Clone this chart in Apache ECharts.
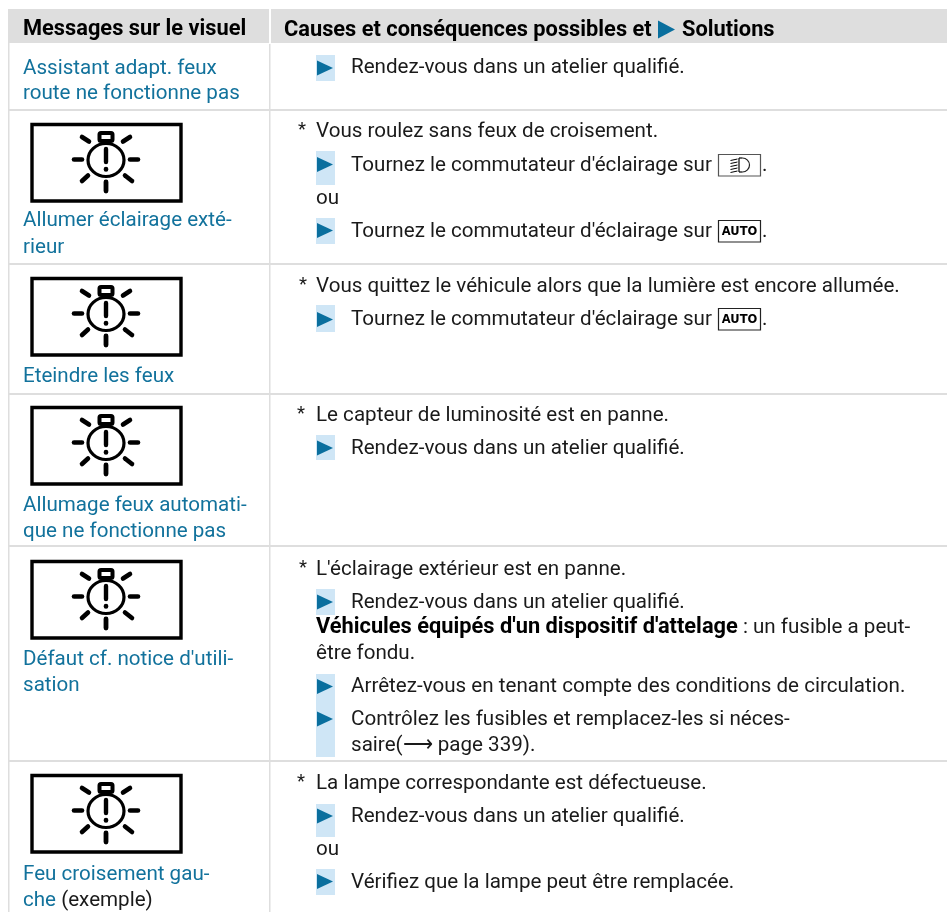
<!DOCTYPE html>
<html>
<head>
<meta charset="utf-8">
<style>
  html, body { margin: 0; padding: 0; background: #fff; }
  #chart { width: 947px; height: 912px; }
</style>
</head>
<body>
<div id="chart"></div>
<script src="https://cdn.jsdelivr.net/npm/echarts@6/dist/echarts.min.js"></script>
<script>
// table content
const headers = ['Messages sur le visuel', 'Causes et conséquences possibles et', 'Solutions'];
const messages = [
  ['Assistant adapt. feux', 'route ne fonctionne pas'],
  ['Allumer éclairage exté-', 'rieur'],
  ['Eteindre les feux'],
  ['Allumage feux automati-', 'que ne fonctionne pas'],
  ["Défaut cf. notice d'utili-", 'sation'],
  ['Feu croisement gau-', 'che {k|(exemple)}']
];
const causes = [
  'Vous roulez sans feux de croisement.',
  'Vous quittez le véhicule alors que la lumière est encore allumée.',
  'Le capteur de luminosité est en panne.',
  "L'éclairage extérieur est en panne.",
  'La lampe correspondante est défectueuse.'
];
const solutions = [
  'Rendez-vous dans un atelier qualifié.',
  "Tournez le commutateur d'éclairage sur",
  "Tournez le commutateur d'éclairage sur",
  "Tournez le commutateur d'éclairage sur",
  'Rendez-vous dans un atelier qualifié.',
  'Rendez-vous dans un atelier qualifié.',
  'Arrêtez-vous en tenant compte des conditions de circulation.',
  'Contrôlez les fusibles et remplacez-les si néces-',
  'Rendez-vous dans un atelier qualifié.',
  'Vérifiez que la lampe peut être remplacée.'
];
const extraLines = [
  'ou',
  'ou',
  "{b|Véhicules équipés d'un dispositif d'attelage} : un fusible a peut-",
  'être fondu.',
  'saire(⟶ page 339).'
];
const keyLabel = 'AUTO';

// layout, separate from the content
const messageY = [[68.5, 93.5], [221, 247.5], [376.5], [505.5, 531.5], [659.5, 685.5], [874.5, 900.5]];
const causeY = [132, 286.5, 415.5, 569.5, 783.5];
const starX = [298, 299, 297, 299, 297];
const solutionY = [67.5, 165.5, 231.5, 319.5, 448.5, 602.5, 686.5, 719.5, 816.5, 882.5];
const extraY = [198.5, 849.5, 627.5, 653.5, 745.5];
const bulletBars = [[55, 26], [151, 34], [218, 26], [305, 27], [435, 25], [589, 26], [674, 83], [804, 33], [869, 26]];
const bulletTips = [68, 164.5, 230.5, 319.5, 448, 602, 686.5, 719, 816, 881.5];
const rowLines = [110, 264, 394, 546, 761];
const iconTops = [123, 277, 406, 560, 774];
const autoKeyTops = [220, 308];
const lampKeyTop = 154;

const TEXT = '#1a1a1a', BLUE = '#12729c', TRI = '#0a6f9e', PALE = '#cfe6f6', GRAY = '#dedede';
const FONT = 'Roboto';
const SIZE = 20.6;
const BOLD = 21.8;

const els = [];
const rect = (x, y, w, h, fill) => els.push({ type: 'rect', silent: true, shape: { x, y, width: w, height: h }, style: { fill } });
const text = (x, y, t, opt) => els.push({
  type: 'text', x, y, silent: true,
  style: Object.assign({ text: t, fill: TEXT, font: `${SIZE}px ${FONT}`, verticalAlign: 'middle' }, opt)
});
const tri = (x, y, w, h) => els.push({
  type: 'polygon', silent: true,
  shape: { points: [[x, y - h / 2], [x + w, y], [x, y + h / 2]] }, style: { fill: TRI }
});
const seg = (x1, y1, x2, y2, lw, cap) => els.push({
  type: 'line', silent: true, shape: { x1, y1, x2, y2 },
  style: { stroke: '#000', lineWidth: lw, lineCap: cap || 'round' }
});

function bulbIcon(top) {
  const cx = 106;
  els.push({ type: 'rect', silent: true, shape: { x: 32, y: top + 1.5, width: 149, height: 76.5 }, style: { fill: '#fff', stroke: '#000', lineWidth: 3.4 } });
  els.push({ type: 'rect', silent: true, shape: { x: cx - 6.5, y: top + 10, width: 13, height: 8, r: 1.5 }, style: { fill: '#fff', stroke: '#000', lineWidth: 4 } });
  els.push({ type: 'ellipse', silent: true, shape: { cx, cy: top + 37, rx: 18, ry: 16.5 }, style: { fill: '#fff', stroke: '#000', lineWidth: 3.2 } });
  seg(cx, top + 26, cx, top + 39, 4.4);
  seg(cx, top + 46, cx, top + 46.5, 4.6);
  seg(cx - 32, top + 36.5, cx - 24, top + 36.5, 4.6);
  seg(cx + 24, top + 36.5, cx + 32, top + 36.5, 4.6);
  seg(cx, top + 59, cx, top + 68, 4.8);
  seg(cx - 24, top + 14, cx - 17, top + 18.5, 4.6);
  seg(cx + 24, top + 14, cx + 17, top + 18.5, 4.6);
  seg(cx - 24, top + 58, cx - 18, top + 52.5, 4.6);
  seg(cx + 26, top + 58, cx + 19, top + 52.5, 4.6);
}

// header band and grid lines
rect(9, 9, 938, 34, GRAY);
rect(269, 9, 2, 34, '#fff');
rect(8, 9, 1.5, 903, GRAY);
rect(269, 44, 1.5, 868, GRAY);
rowLines.forEach(y => rect(9, y - 1, 938, 2, GRAY));

const HEAD = `bold ${BOLD}px ${FONT}`;
text(23, 30, headers[0], { font: HEAD, fill: '#000' });
text(284, 31, headers[1], { font: HEAD, fill: '#000' });
tri(658, 29.5, 17, 18);
text(682, 31, headers[2], { font: HEAD, fill: '#000' });

messages.forEach((lines, i) => lines.forEach((t, j) => {
  text(23, messageY[i][j], t, { fill: BLUE, rich: { k: { fill: TEXT, font: `${SIZE}px ${FONT}` } } });
}));
iconTops.forEach(bulbIcon);

causes.forEach((t, i) => {
  text(starX[i], causeY[i] - 1.5, '*', { font: `${SIZE - 2}px ${FONT}` });
  text(316, causeY[i], t);
});
bulletBars.forEach(b => rect(316, b[0], 19, b[1], PALE));
bulletTips.forEach(y => tri(317, y, 16, 15));
solutions.forEach((t, i) => text(351, solutionY[i], t));
extraLines.forEach((t, i) => {
  const x = i === 4 ? 351 : 316;
  text(x, extraY[i], t, { rich: { b: { font: HEAD, fill: '#000' } } });
});

// switch keys
function boxKey(top, stroke) {
  els.push({ type: 'rect', silent: true, shape: { x: 718.5, y: top + 0.5, width: 42, height: 21.5 }, style: { fill: '#fff', stroke, lineWidth: 1.2 } });
}
boxKey(lampKeyTop, '#555');
text(762, lampKeyTop + 12, '.', {});
// low-beam glyph
els.push({ type: 'arc', silent: true, shape: { cx: 742.5, cy: lampKeyTop + 11, r: 7, startAngle: -Math.PI / 2, endAngle: Math.PI / 2 }, style: { fill: 'none', stroke: '#222', lineWidth: 1.2 } });
seg(739, lampKeyTop + 4, 742.5, lampKeyTop + 4, 1.2, 'butt');
seg(739, lampKeyTop + 18, 742.5, lampKeyTop + 18, 1.2, 'butt');
seg(739, lampKeyTop + 4, 739, lampKeyTop + 18, 1.2, 'butt');
[5, 8, 11, 14, 17].forEach(d => seg(730.5, lampKeyTop + d + 1.5, 737.5, lampKeyTop + d, 1, 'butt'));
autoKeyTops.forEach(top => {
  boxKey(top, '#222');
  text(739.5, top + 12.5, keyLabel, { font: 'bold 11.5px "DejaVu Sans"', align: 'center', fill: '#000' });
  text(762, top + 11.5, '.', {});
});

const chart = echarts.init(document.getElementById('chart'), null, { renderer: 'canvas' });
chart.setOption({
  animation: false,
  backgroundColor: '#fff',
  graphic: { elements: els }
});
</script>
</body>
</html>
